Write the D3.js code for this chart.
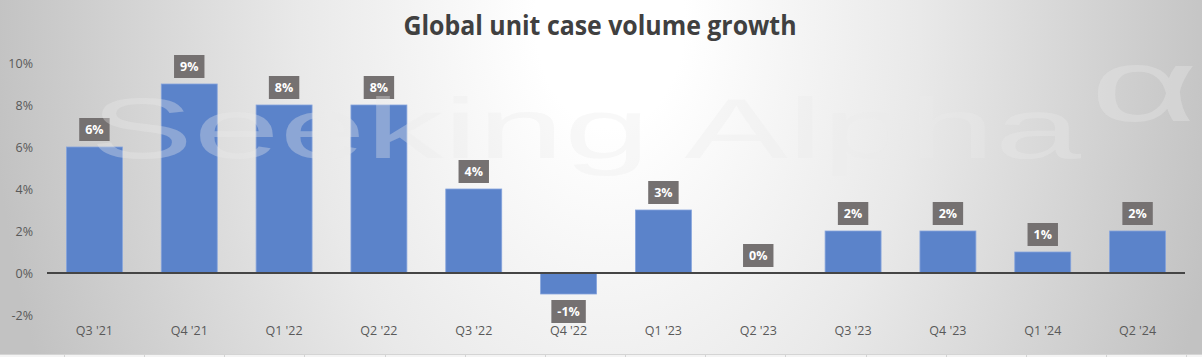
<!DOCTYPE html>
<html><head><meta charset="utf-8">
<script src="https://cdn.jsdelivr.net/npm/d3@7"></script>
<style>html,body{margin:0;padding:0;overflow:hidden;background:#fff}svg{display:block}</style>
</head><body>
<script>
const categories = ["Q3 '21","Q4 '21","Q1 '22","Q2 '22","Q3 '22","Q4 '22","Q1 '23","Q2 '23","Q3 '23","Q4 '23","Q1 '24","Q2 '24"];
const growth = [6, 9, 8, 8, 4, -1, 3, 0, 2, 2, 1, 2];
const yTicks = [-2, 0, 2, 4, 6, 8, 10];
const titleText = "Global unit case volume growth";

const W = 1202, H = 357;
const svg = d3.select("body").append("svg").attr("width", W).attr("height", H);
const defs = svg.append("defs");
const rg = defs.append("radialGradient").attr("id","bg").attr("gradientUnits","userSpaceOnUse")
  .attr("cx",610).attr("cy",20).attr("r",620).attr("fx",610).attr("fy",20)
  .attr("gradientTransform","translate(610,20) scale(1,1.45) translate(-610,-20)");
rg.append("stop").attr("offset",0).attr("stop-color","#ffffff");
rg.append("stop").attr("offset",0.12).attr("stop-color","#ffffff");
rg.append("stop").attr("offset",0.5).attr("stop-color","#e9e9e9");
rg.append("stop").attr("offset",1).attr("stop-color","#c2c2c2");
svg.append("rect").attr("width",W).attr("height",H).attr("fill","url(#bg)");

const x = d3.scaleBand().domain(categories).range([47, 1185]).paddingInner(0.41).paddingOuter(0.205);
const y = d3.scaleLinear().domain([-2, 10]).range([315, 63]);

// title
const t = svg.append("text").attr("x", 600).attr("y", 35).attr("text-anchor","middle")
  .attr("font-family","'Open Sans', sans-serif").attr("font-weight","bold").attr("font-size",26)
  .attr("fill","#404040").text(titleText);
t.attr("textLength", 393).attr("lengthAdjust","spacingAndGlyphs");

// y axis labels
const yAxis = d3.axisLeft(y).tickValues(yTicks).tickFormat(d => d + "%").tickSize(0).tickPadding(0);
const ya = svg.append("g").attr("transform","translate(33,0)").call(yAxis);
ya.select(".domain").remove();
ya.selectAll("text").attr("font-family","'Open Sans', sans-serif").attr("font-size",12.5).attr("fill","#595959");

// x axis labels
const xAxis = d3.axisBottom(x).tickSize(0).tickPadding(0);
const xa = svg.append("g").attr("transform","translate(0,326)").call(xAxis);
xa.select(".domain").remove();
xa.selectAll("text").attr("font-family","'Open Sans', sans-serif").attr("font-size",12.5).attr("fill","#595959");

// bars
svg.append("g").selectAll("rect").data(growth).join("rect")
  .attr("x", (d,i) => x(categories[i]))
  .attr("width", x.bandwidth())
  .attr("y", d => y(Math.max(0,d)))
  .attr("height", d => Math.abs(y(d) - y(0)))
  .attr("fill","#5b83ca").attr("stroke","#86a4dc").attr("stroke-width",0.8);

// zero line
svg.append("line").attr("x1",47).attr("x2",1185).attr("y1",y(0)).attr("y2",y(0))
  .attr("stroke","#454545").attr("stroke-width",2);

// data labels
const lg = svg.append("g");
growth.forEach((d,i) => {
  const cx = x(categories[i]) + x.bandwidth()/2;
  const g = lg.append("g");
  const txt = g.append("text").attr("x",cx).attr("text-anchor","middle")
    .attr("font-family","'Open Sans', sans-serif").attr("font-weight","bold").attr("font-size",12.5)
    .attr("fill","#ffffff").text(d + "%");
  const bw = txt.node().getComputedTextLength() + 12;
  const top = d >= 0 ? y(d) - 6 - 23 : y(d) + 6;
  g.insert("rect","text").attr("x",cx - bw/2).attr("y",top).attr("width",bw).attr("height",23).attr("fill","#757171");
  txt.attr("y", top + 16);
});

// watermark (drawn over the chart, as in the source image)
const wm = svg.append("g").attr("fill","#ebebeb").attr("fill-opacity",0.34).attr("pointer-events","none");
wm.append("text").attr("x",90).attr("y",158).attr("font-family","'Liberation Sans', Arial, sans-serif")
  .attr("font-size",86).attr("textLength",991).attr("lengthAdjust","spacingAndGlyphs").text("Seeking Alpha");
wm.append("text").attr("transform","translate(1090,121) scale(1.8,1)")
  .attr("font-family","'Liberation Sans', Arial, sans-serif").attr("font-size",104).text("α");

// bottom spreadsheet strip
svg.append("rect").attr("x",0).attr("y",354).attr("width",W).attr("height",3).attr("fill","#f4f4f4");
svg.append("line").attr("x1",0).attr("x2",W).attr("y1",354.5).attr("y2",354.5).attr("stroke","#d4d4d4");
const cellX = [64, 144, 224, 304, 385, 465, 545, 625, 705, 785, 866, 946, 1026, 1106, 1186];
svg.append("g").selectAll("line").data(cellX).join("line")
  .attr("x1",d=>d+0.5).attr("x2",d=>d+0.5).attr("y1",354).attr("y2",357).attr("stroke","#d4d4d4");
</script>
</body></html>
